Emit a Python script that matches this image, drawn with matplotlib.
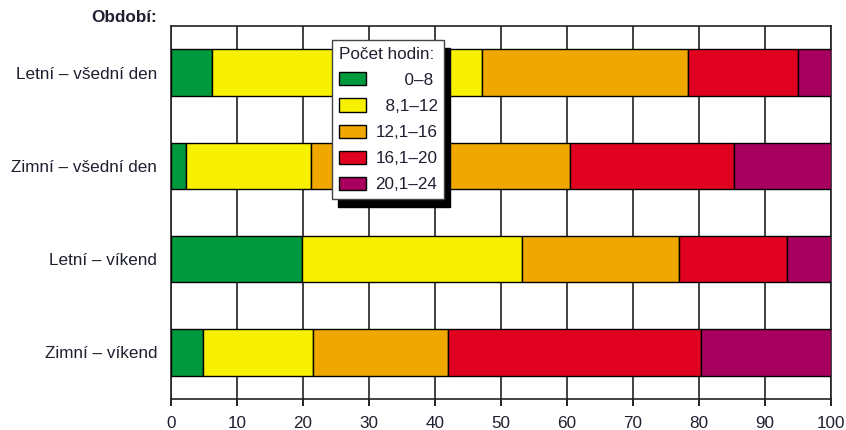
import matplotlib
matplotlib.use("Agg")
import matplotlib.pyplot as plt
import numpy as np

plt.rcParams['font.family'] = ['Liberation Sans', 'DejaVu Sans']

periods = ["Letní – všední den", "Zimní – všední den", "Letní – víkend", "Zimní – víkend"]
hour_bins = ["0–8", "8,1–12", "12,1–16", "16,1–20", "20,1–24"]
legend_labels = ["      0–8", "  8,1–12", "12,1–16", "16,1–20", "20,1–24"]
colors = ["#009a3e", "#f7f000", "#f0a800", "#e00020", "#a8005e"]

# share of days (%) in each bin of hours, per period
share_0_8 = [6.2, 2.2, 19.8, 4.9]
share_8_12 = [40.9, 19.0, 33.4, 16.6]
share_12_16 = [31.2, 39.3, 23.8, 20.5]
share_16_20 = [16.7, 24.8, 16.4, 38.3]
share_20_24 = [5.0, 14.7, 6.6, 19.7]

series = [share_0_8, share_8_12, share_12_16, share_16_20, share_20_24]

text_color = "#1e2030"
fs = 12.3

fig = plt.figure(figsize=(8.46, 4.30), dpi=100)
ax = fig.add_axes([171/846, 1-399/430, (831-171)/846, (399-26)/430])

y = np.arange(len(periods))
left = np.zeros(len(periods))
handles = []
for vals, col, lab in zip(series, colors, legend_labels):
    b = ax.barh(y, vals, left=left, height=0.5, color=col,
                edgecolor="black", linewidth=1.0, label=lab, zorder=3)
    handles.append(b)
    left += np.array(vals)

ax.set_xlim(0, 100)
ax.set_ylim(3.5, -0.5)
ax.set_xticks(np.arange(0, 101, 10))
ax.set_yticks(y)
ax.set_yticklabels(periods)
ax.xaxis.grid(True, color="#333333", linewidth=1.3, zorder=0)
ax.set_axisbelow(True)
ax.tick_params(axis="y", length=0, pad=10, labelsize=fs, labelcolor=text_color)
ax.tick_params(axis="x", length=5, width=1.2, direction="out", pad=7,
               labelsize=fs, labelcolor=text_color)
for s in ax.spines.values():
    s.set_color("#222222")
    s.set_linewidth(1.2)

fig.text(157/846, 1-17/430, "Období:", ha="right", va="center",
         fontsize=fs, fontweight="bold", color=text_color)

leg = ax.legend(handles=handles, labels=legend_labels, title="Počet hodin:",
                loc="upper left", bbox_to_anchor=(332/846, 1-40/430),
                bbox_transform=fig.transFigure, borderaxespad=0,
                fontsize=fs, title_fontsize=fs, frameon=True, fancybox=False,
                framealpha=1, edgecolor="#444444",
                shadow={"ox": 4, "oy": -6, "color": "black", "alpha": 1},
                handlelength=1.6, handleheight=0.8, handletextpad=0.55,
                labelspacing=0.62, borderpad=0.4)
leg.get_frame().set_linewidth(1.0)
leg._legend_box.align = "left"
for t in leg.get_texts():
    t.set_color(text_color)
leg.get_title().set_color(text_color)
leg.set_zorder(10)

fig.savefig("out.png", dpi=100)
